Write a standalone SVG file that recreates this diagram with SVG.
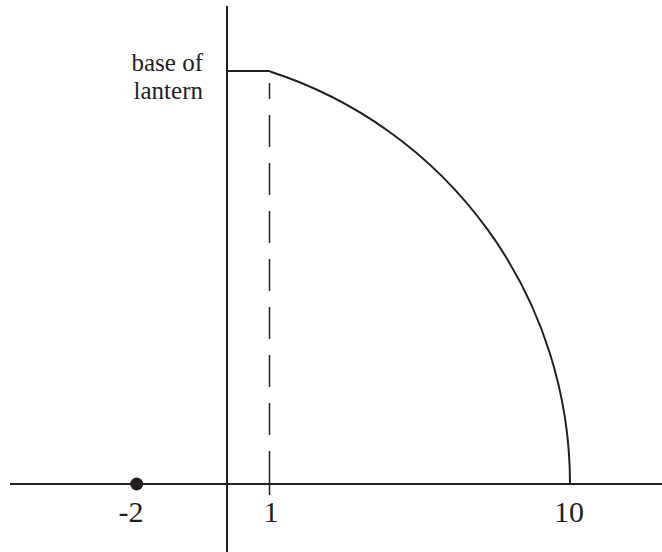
<svg xmlns="http://www.w3.org/2000/svg" width="662" height="552" viewBox="0 0 662 552">
  <style>
    .ax { stroke: #231f20; stroke-width: 2; fill: none; }
    .dash { stroke: #231f20; stroke-width: 1.5; fill: none; stroke-dasharray: 32 16; }
    .lbl { font-family: "Liberation Serif", "Times New Roman", serif; fill: #231f20; }
  </style>
  <rect width="662" height="552" fill="#ffffff"/>
  <g id="axes">
    <line class="ax" x1="10" y1="484" x2="662" y2="484"/>
    <line class="ax" x1="227" y1="6" x2="227" y2="552"/>
  </g>
  <g id="connectors">
    <line class="ax" x1="227" y1="71" x2="270" y2="71"/>
    <path class="ax" d="M270 71.5 A433.3 433.3 0 0 1 570 484"/>
    <line class="ax" style="stroke-width:1.5" x1="269.5" y1="83" x2="269.5" y2="99"/>
    <line class="dash" x1="269.5" y1="115" x2="269.5" y2="484"/>
    <line class="ax" style="stroke-width:1.5" x1="269.5" y1="484" x2="269.5" y2="495"/>
  </g>
  <g id="point">
    <circle cx="136.7" cy="484" r="6.5" fill="#231f20"/>
  </g>
  <g id="labels">
    <text class="lbl" x="203" y="71" font-size="25" text-anchor="end">base of</text>
    <text class="lbl" x="203" y="99" font-size="25" text-anchor="end">lantern</text>
    <text class="lbl" x="131" y="522" font-size="30" text-anchor="middle">-2</text>
    <text class="lbl" x="271" y="522" font-size="30" text-anchor="middle">1</text>
    <text class="lbl" x="569" y="522" font-size="30" text-anchor="middle">10</text>
  </g>
</svg>
